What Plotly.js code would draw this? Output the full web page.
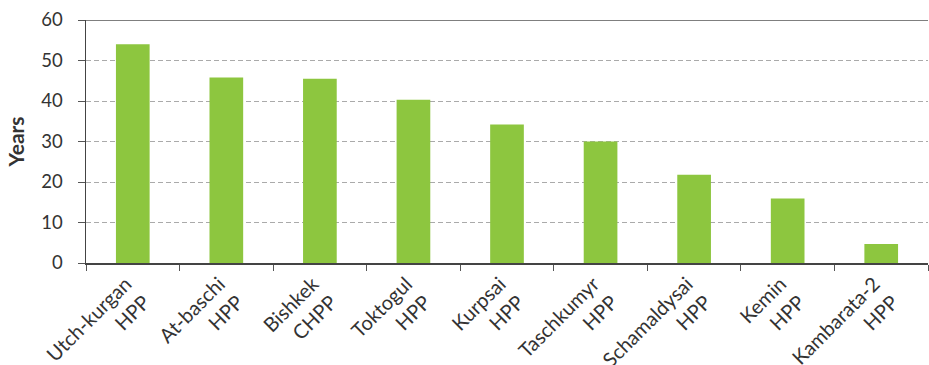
<!DOCTYPE html>
<html>
<head>
<meta charset="utf-8">
<script src="https://cdn.plot.ly/plotly-3.0.1.min.js"></script>
<style>html,body{margin:0;padding:0;background:#fff;}#chart{width:929px;height:365px;}</style>
</head>
<body>
<div id="chart"></div>
<script>
const categories = ["Utch-kurgan<br>HPP", "At-baschi<br>HPP", "Bishkek<br>CHPP", "Toktogul<br>HPP", "Kurpsai<br>HPP", "Taschkumyr<br>HPP", "Schamaldysai<br>HPP", "Kemin<br>HPP", "Kambarata-2<br>HPP"];
const years = [54, 45.8, 45.5, 40.3, 34.2, 30, 21.8, 15.9, 4.7];
const yTicks = [0, 10, 20, 30, 40, 50, 60];

const fam = "Lato, 'Open Sans', sans-serif";

Plotly.newPlot("chart", [{
  type: "bar",
  x: categories,
  y: years,
  marker: {color: "#8dc63f"},
  hoverinfo: "skip"
}], {
  width: 929, height: 365,
  margin: {l: 86, r: 1, t: 20, b: 102},
  paper_bgcolor: "#fff", plot_bgcolor: "#fff",
  font: {family: fam, size: 18, color: "#333"},
  bargap: 0.64,
  showlegend: false,
  xaxis: {
    tickangle: -45,
    ticks: "outside", tickson: "boundaries", ticklen: 6, tickcolor: "#555", tickwidth: 1,
    ticklabelstandoff: 0, ticklabelshift: -7,
    showline: true, linecolor: "#444", linewidth: 1.5,
    showgrid: false, zeroline: false,
    tickfont: {family: fam, size: 20, color: "#333"}
  },
  yaxis: {
    range: [0, 60], tickvals: yTicks,
    ticks: "outside", ticklen: 7, tickcolor: "#555", tickwidth: 1,
    ticklabelstandoff: 11,
    showline: true, linecolor: "#444", linewidth: 1.5,
    showgrid: true, gridcolor: "#aaa", gridwidth: 1, griddash: "5px,3px",
    zeroline: false,
    tickfont: {family: fam, size: 18.5, color: "#333"},
    title: {text: "<b>Years</b>", font: {family: fam, size: 21, color: "#333"}, standoff: 11}
  },
  shapes: [{type: "line", xref: "paper", x0: 0, x1: 1, yref: "y", y0: 60, y1: 60, line: {color: "#555", width: 1.5}}]
}, {staticPlot: true});
</script>
</body>
</html>
